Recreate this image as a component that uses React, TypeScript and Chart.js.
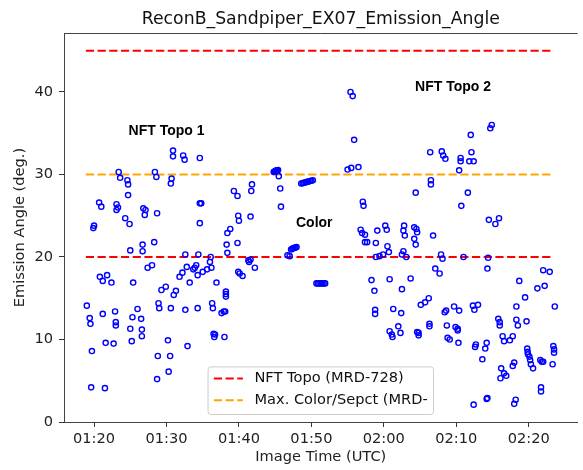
import React, { useEffect, useRef } from 'react';
import { Chart, registerables } from 'chart.js';

Chart.register(...registerables);

// Image time in minutes after 00:00 UTC
const imageTimeMin = [
  79.0, 79.4, 79.5, 79.7, 79.6, 79.9, 80.0, 80.7, 81.0, 80.8, 81.2, 81.2, 81.5, 81.6, 81.8, 82.4, 82.7, 82.9, 83.0, 83.0,
  83.1, 83.3, 83.1, 83.4, 83.6, 84.3, 84.6, 84.7, 84.7, 84.9, 85.0, 85.0, 85.2, 85.3, 85.4, 86.0, 86.5, 86.6, 86.6, 86.7,
  86.7, 86.8, 87.1, 87.0, 87.4, 88.0, 88.3, 88.4, 88.6, 88.7, 88.7, 88.8, 88.9, 89.0, 89.3, 89.9, 90.2, 90.3, 90.5, 90.6,
  90.7, 90.6, 90.9, 90.9, 91.0, 91.3, 91.8, 92.2, 92.3, 92.5, 92.6, 92.6, 92.8, 92.9, 93.2, 93.7, 93.9, 94.1, 94.3, 94.3,
  94.4, 94.6, 94.6, 94.8, 94.6, 95.0, 95.6, 96.0, 96.1, 96.2, 96.3, 96.4, 96.5, 96.6, 96.7, 96.9, 97.6, 97.9, 98.1, 98.0,
  98.2, 98.2, 98.2, 98.3, 98.4, 98.4, 98.8, 99.3, 99.8, 99.8, 99.9, 100.0, 99.9, 100.1, 100.5, 101.3, 101.4, 101.6, 101.6, 101.8,
  101.7, 102.2, 104.8, 104.9, 105.0, 105.1, 105.2, 105.3, 105.4, 105.5, 105.7, 105.8, 106.7, 107.0, 107.2, 107.35, 107.5, 107.65, 107.8, 107.95,
  108.6, 108.8, 109.0, 109.2, 109.4, 109.6, 109.8, 110.0, 110.2, 110.7, 110.9, 111.1, 111.3, 111.5, 111.7, 111.9, 115.0, 115.5, 116.5, 115.4,
  115.7, 115.9, 116.8, 117.0, 117.4, 117.4, 117.7, 117.1, 117.2, 118.3, 118.7, 118.8, 118.8, 118.9, 118.9, 119.1, 119.4, 119.9, 120.2, 120.4,
  120.5, 120.7, 120.8, 120.8, 121.1, 121.2, 121.3, 122.0, 122.3, 122.4, 122.5, 122.5, 122.7, 122.7, 122.8, 122.9, 123.1, 123.7, 124.2, 124.5,
  124.6, 124.2, 124.4, 124.4, 124.6, 124.8, 124.8, 125.1, 125.7, 126.2, 126.3, 126.3, 126.4, 126.5, 126.5, 126.8, 127.1, 127.7, 127.9, 128.1,
  128.0, 128.2, 128.5, 128.4, 128.6, 128.7, 128.8, 129.1, 129.7, 129.9, 130.2, 130.2, 130.3, 130.4, 130.4, 130.6, 130.6, 130.7, 131.0, 131.6,
  131.8, 132.4, 132.0, 132.1, 132.3, 132.5, 133.0, 132.4, 132.6, 132.7, 133.6, 134.0, 134.2, 134.2, 134.3, 134.3, 134.4, 134.5, 134.7, 134.9,
  135.4, 135.9, 135.8, 136.0, 136.0, 136.1, 136.2, 136.4, 136.6, 136.6, 136.9, 137.4, 137.8, 137.8, 138.0, 138.0, 138.2, 138.3, 138.3, 138.5,
  138.7, 139.5, 139.7, 139.8, 139.85, 139.9, 140.1, 140.2, 140.3, 140.6, 141.2, 141.6, 141.7, 141.7, 141.8, 142.0, 142.0, 142.2, 142.9, 143.3,
  143.4, 143.5, 143.5, 143.6,
];

const emissionAngleDeg = [
  14.1, 12.6, 11.9, 8.6, 4.2, 23.5, 23.8, 26.6, 26.1, 17.6, 17.1, 13.1, 4.1, 9.6, 17.8, 16.9, 9.5, 13.4, 12.1, 11.7,
  26.4, 26.0, 25.7, 30.3, 29.6, 24.7, 29.3, 28.8, 27.5, 24.0, 20.8, 11.3, 9.8, 12.7, 16.9, 13.7, 12.5, 11.2, 10.4, 21.5,
  20.7, 25.9, 25.7, 25.1, 18.7, 19.0, 21.8, 30.3, 29.7, 25.3, 5.2, 8.0, 14.4, 13.8, 16.0, 16.4, 9.9, 6.1, 8.0, 13.8,
  29.5, 28.9, 32.9, 32.2, 15.4, 15.9, 17.6, 18.1, 32.3, 31.8, 20.3, 13.6, 18.8, 9.2, 16.9, 18.5, 18.7, 19.0, 17.8, 13.8,
  20.3, 32.0, 26.5, 26.5, 24.1, 18.2, 18.5, 19.4, 20.0, 18.7, 14.4, 13.8, 10.7, 10.3, 10.6, 16.9, 13.2, 13.4, 13.4, 10.3,
  15.8, 15.2, 15.5, 21.5, 20.5, 22.9, 23.4, 28.0, 27.4, 21.7, 25.0, 24.4, 18.2, 18.0, 17.7, 19.6, 19.4, 19.7, 24.9, 28.8,
  28.0, 18.7, 30.3, 30.35, 30.4, 30.45, 30.5, 30.5, 30.55, 29.8, 28.3, 26.1, 20.2, 20.1, 20.9, 21.0, 21.05, 21.1, 21.15, 21.2,
  28.9, 28.95, 29.0, 29.05, 29.1, 29.15, 29.2, 29.25, 29.3, 16.8, 16.8, 16.8, 16.8, 16.8, 16.8, 16.8, 30.6, 30.8, 30.9, 40.0,
  39.5, 34.2, 23.3, 22.9, 22.7, 21.8, 21.8, 26.7, 26.2, 17.2, 15.9, 13.6, 13.1, 21.7, 20.0, 23.2, 20.1, 20.3, 23.8, 23.3,
  21.3, 20.6, 17.3, 11.0, 10.6, 10.3, 13.7, 11.6, 10.8, 13.2, 16.1, 20.3, 20.7, 23.2, 23.8, 22.6, 20.0, 17.4, 23.6, 23.4,
  23.0, 22.2, 21.5, 27.8, 10.9, 10.8, 10.5, 14.2, 14.5, 15.0, 11.9, 11.6, 32.7, 29.3, 28.8, 22.6, 18.6, 18.0, 20.3, 19.8,
  32.8, 32.3, 31.9, 13.3, 13.5, 11.7, 10.2, 10.0, 14.0, 11.5, 11.1, 11.3, 9.6, 13.5, 30.5, 32.0, 31.6, 26.2, 20.0, 27.8,
  31.6, 31.6, 34.8, 32.7, 14.1, 13.6, 14.2, 2.1, 9.1, 9.4, 7.6, 8.9, 9.6, 2.8, 2.9, 18.6, 19.9, 24.5, 35.6, 36.0,
  24.0, 24.7, 12.5, 12.1, 11.7, 5.3, 6.5, 10.4, 9.8, 5.9, 5.6, 9.9, 10.4, 6.8, 7.2, 2.2, 2.7, 14.0, 12.4, 11.7,
  17.1, 15.1, 12.2, 8.9, 8.5, 8.2, 7.9, 7.5, 7.0, 6.5, 16.2, 7.5, 4.2, 3.7, 7.3, 7.3, 18.4, 16.5, 18.2, 7.0,
  9.2, 8.8, 8.4, 14.0,
];

const xTickMinutes = [80, 90, 100, 110, 120, 130, 140];
const yTickValues = [0, 10, 20, 30, 40];

const refLineStartMin = 78.87;
const refLineEndMin = 143.3;
const nftTopoUpper = 45;
const nftTopoLower = 20;
const maxColorLimit = 30;

const annotationLabels = ['NFT Topo 1', 'NFT Topo 2', 'Color'];
const annotationX = [90.0, 129.55, 110.4];
const annotationY = [35.3, 40.56, 24.1];

const legendLabels = ['NFT Topo (MRD-728)', 'Max. Color/Sepct (MRD-'];
const legendColors = ['red', 'orange'];

const chartTitle = 'ReconB_Sandpiper_EX07_Emission_Angle';
const xAxisTitle = 'Image Time (UTC)';
const yAxisTitle = 'Emission Angle (deg.)';

const FONT = '"DejaVu Sans", sans-serif';
const FS = 14.6;
const DASH = [8.2, 3.5];
const LW = 2.1;

const fmtTime = (v: number) => {
  const h = Math.floor(v / 60);
  const m = Math.round(v - h * 60);
  return `${String(h).padStart(2, '0')}:${String(m).padStart(2, '0')}`;
};

const decorPlugin = {
  id: 'decor',
  afterDatasetsDraw(chart: any) {
    const { ctx, chartArea, scales } = chart;
    ctx.save();
    ctx.strokeStyle = '#444';
    ctx.lineWidth = 1;
    ctx.beginPath();
    ctx.moveTo(chartArea.left, chartArea.top + 0.5);
    ctx.lineTo(chartArea.right, chartArea.top + 0.5);
    ctx.stroke();
    ctx.fillStyle = '#000';
    ctx.font = 'bold 14px "Liberation Sans", Arial, sans-serif';
    ctx.textAlign = 'center';
    ctx.textBaseline = 'middle';
    annotationLabels.forEach((t, i) => {
      ctx.fillText(t, scales.x.getPixelForValue(annotationX[i]), scales.y.getPixelForValue(annotationY[i]));
    });
    ctx.restore();
  },
  afterDraw(chart: any) {
    const { ctx, chartArea } = chart;
    ctx.save();
    ctx.fillStyle = '#111';
    ctx.font = `17.3px ${FONT}`;
    ctx.textAlign = 'center';
    ctx.textBaseline = 'alphabetic';
    ctx.fillText(chartTitle, (chartArea.left + chartArea.right) / 2, 24);

    ctx.font = `${FS}px ${FONT}`;
    const textW = Math.max(...legendLabels.map((l) => ctx.measureText(l).width));
    const pad = 5.8, handle = 29, gap = 11.6;
    const w = pad + handle + gap + textW + pad;
    const h = 47.6;
    const cx = (chartArea.left + chartArea.right) / 2;
    const x0 = cx - w / 2;
    const y1 = chartArea.bottom - 7.5;
    const y0 = y1 - h;
    const r = 2.8;
    ctx.beginPath();
    ctx.moveTo(x0 + r, y0);
    ctx.lineTo(x0 + w - r, y0);
    ctx.arcTo(x0 + w, y0, x0 + w, y0 + r, r);
    ctx.lineTo(x0 + w, y1 - r);
    ctx.arcTo(x0 + w, y1, x0 + w - r, y1, r);
    ctx.lineTo(x0 + r, y1);
    ctx.arcTo(x0, y1, x0, y1 - r, r);
    ctx.lineTo(x0, y0 + r);
    ctx.arcTo(x0, y0, x0 + r, y0, r);
    ctx.closePath();
    ctx.fillStyle = 'rgba(255,255,255,0.8)';
    ctx.fill();
    ctx.strokeStyle = '#cccccc';
    ctx.lineWidth = 1;
    ctx.stroke();
    legendLabels.forEach((l, i) => {
      const ry = y0 + 11.6 + i * 21.7;
      ctx.strokeStyle = legendColors[i];
      ctx.lineWidth = LW;
      ctx.setLineDash(DASH);
      ctx.beginPath();
      ctx.moveTo(x0 + pad, ry);
      ctx.lineTo(x0 + pad + handle, ry);
      ctx.stroke();
      ctx.setLineDash([]);
      ctx.fillStyle = '#111';
      ctx.textAlign = 'left';
      ctx.textBaseline = 'middle';
      ctx.fillText(l, x0 + pad + handle + gap, ry);
    });
    ctx.restore();
  },
};

export default function App() {
  const canvasRef = useRef<HTMLCanvasElement | null>(null);

  useEffect(() => {
    if (!canvasRef.current) return;
    const points = imageTimeMin.map((t, i) => ({ x: t, y: emissionAngleDeg[i] }));
    const refLine = (y: number) => [
      { x: refLineStartMin, y },
      { x: refLineEndMin, y },
    ];
    const lineStyle = (color: string) => ({
      type: 'line' as const,
      showLine: true,
      borderColor: color,
      borderWidth: LW,
      borderDash: DASH,
      pointRadius: 0,
      fill: false,
    });
    const tickFont = { family: FONT, size: FS };
    const chart = new Chart(canvasRef.current, {
      type: 'scatter',
      data: {
        datasets: [
          {
            label: 'Emission Angle',
            data: points,
            pointStyle: 'circle',
            pointRadius: 2.6,
            pointBorderWidth: 1.4,
            borderColor: 'blue',
            pointBorderColor: 'blue',
            backgroundColor: 'rgba(0,0,0,0)',
            pointBackgroundColor: 'rgba(0,0,0,0)',
            showLine: false,
          },
          { label: legendLabels[0], data: refLine(nftTopoUpper), ...lineStyle('red') },
          { label: legendLabels[0], data: refLine(nftTopoLower), ...lineStyle('red') },
          { label: legendLabels[1], data: refLine(maxColorLimit), ...lineStyle('orange') },
        ] as any,
      },
      options: {
        animation: false,
        responsive: false,
        devicePixelRatio: 1,
        layout: { padding: { top: 33, right: 0, bottom: 0, left: 0 } },
        plugins: {
          legend: { display: false },
          title: { display: false },
          tooltip: { enabled: false },
        },
        scales: {
          x: {
            type: 'linear',
            min: 75.85,
            max: 146.75,
            afterBuildTicks: (s: any) => {
              s.ticks = xTickMinutes.map((v) => ({ value: v }));
            },
            afterFit: (s: any) => {
              s.height = 48;
            },
            ticks: {
              callback: (v: any) => fmtTime(Number(v)),
              font: tickFont,
              color: '#222',
              padding: 3.5,
              maxRotation: 0,
              autoSkip: false,
            },
            grid: {
              drawOnChartArea: false,
              drawTicks: true,
              tickLength: 5,
              tickColor: '#333',
              tickWidth: 1,
            },
            border: { display: true, color: '#444', width: 1 },
            title: {
              display: true,
              text: xAxisTitle,
              font: tickFont,
              color: '#222',
              padding: { top: 0, bottom: 4 },
            },
          },
          y: {
            type: 'linear',
            min: 0,
            max: 47.15,
            afterBuildTicks: (s: any) => {
              s.ticks = yTickValues.map((v) => ({ value: v }));
            },
            afterFit: (s: any) => {
              s.width = 64;
            },
            ticks: {
              font: tickFont,
              color: '#222',
              padding: 6,
            },
            grid: {
              drawOnChartArea: false,
              drawTicks: true,
              tickLength: 5,
              tickColor: '#333',
              tickWidth: 1,
            },
            border: { display: true, color: '#444', width: 1 },
            title: {
              display: true,
              text: yAxisTitle,
              font: tickFont,
              color: '#222',
              padding: { top: 11, bottom: 0 },
            },
          },
        },
      } as any,
      plugins: [decorPlugin],
    });
    return () => chart.destroy();
  }, []);

  return (
    <div style={{ position: 'absolute', left: 0, top: 0, width: 583, height: 470, background: '#fff' }}>
      <canvas ref={canvasRef} width={583} height={470} style={{ display: 'block', width: 583, height: 470 }} />
    </div>
  );
}
